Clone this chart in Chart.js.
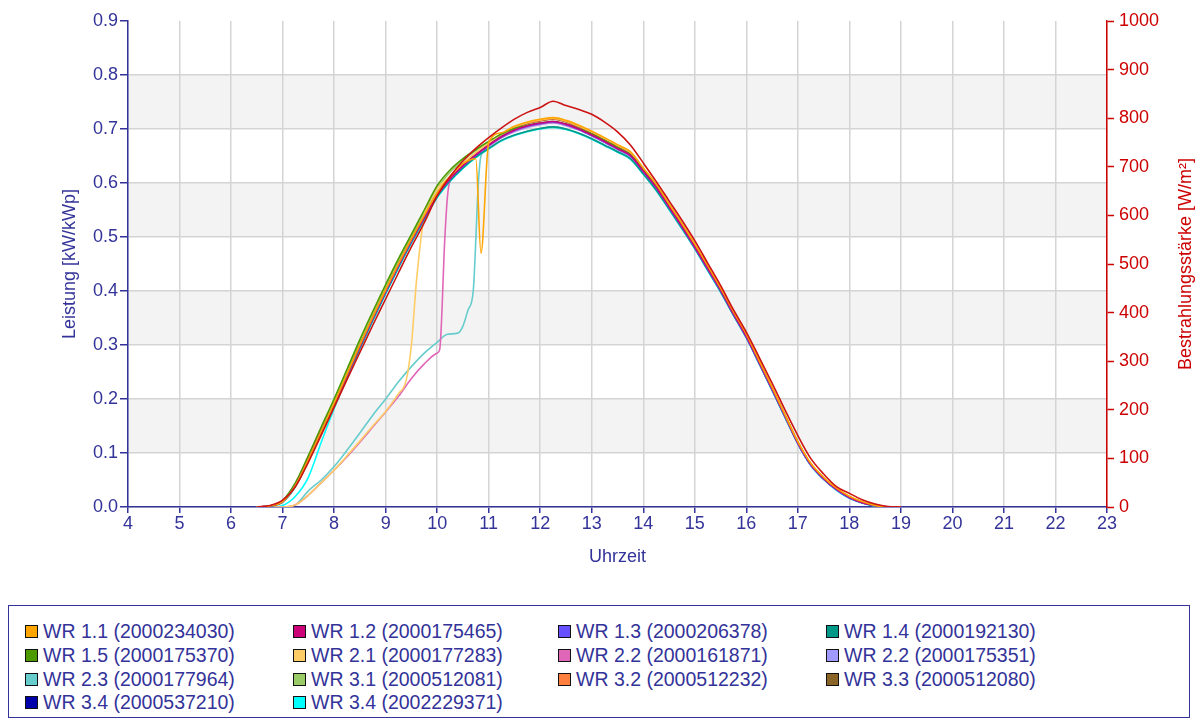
<!DOCTYPE html>
<html>
<head>
<meta charset="utf-8">
<script src="https://cdn.jsdelivr.net/npm/chart.js@4.4.0/dist/chart.umd.min.js"></script>
<style>
  body { margin: 0; background: #fff; font-family: "Liberation Sans", Arial, sans-serif; }
  #chartBox { position: absolute; left: 0; top: 0; width: 1197px; height: 590px; }
  #legendBox {
    position: absolute; left: 8px; top: 605px; width: 1180px; height: 111px;
    border: 1px solid #333399; box-sizing: content-box;
  }
  #legendGrid {
    position: absolute; left: 16px; top: 14px;
    display: grid; grid-template-columns: 268px 265px 268px 268px; grid-auto-rows: 23.7px;
  }
  .item { display: flex; align-items: center; color: #333399; font-size: 19.5px; white-space: nowrap; }
  .sw { width: 11px; height: 11px; border: 1.5px solid #111; margin-right: 5px; }
</style>
</head>
<body>
<div id="chartBox"><canvas id="chartArea"></canvas></div>
<div id="legendBox"><div id="legendGrid"></div></div>
<script>
const chartArea = document.getElementById("chartArea");

// time of day in hours (15 min steps)
var hours = [6.5,6.75,7,7.25,7.5,7.75,8,8.25,8.5,8.75,9,9.25,9.5,9.75,10,10.25,10.5,10.75,11,11.25,11.5,11.75,12,12.25,12.5,12.75,13,13.25,13.5,13.75,14,14.25,14.5,14.75,15,15.25,15.5,15.75,16,16.25,16.5,16.75,17,17.25,17.5,17.75,18,18.25,18.5,18.75,19];

// irradiance W/m2 (right axis)
var irradiance = [0,3,14,42,92,148,205,262,318,374,428,482,535,585,640,680,712,738,760,780,798,812,822,835,826,818,808,792,772,745,708,670,630,590,548,502,456,406,360,308,255,200,147,100,68,42,28,15,6,1,0];

// inverter power kW/kWp (left axis)
var wr11Hours = [6.5,6.75,7,7.25,7.5,7.75,8,8.25,8.5,8.75,9,9.25,9.5,9.75,10,10.25,10.5,10.75,10.85,11,11.25,11.5,11.75,12,12.25,12.5,12.75,13,13.25,13.5,13.75,14,14.25,14.5,14.75,15,15.25,15.5,15.75,16,16.25,16.5,16.75,17,17.25,17.5,17.75,18,18.25,18.5,18.75,19];
var wr11 = [0,0.002,0.01,0.04,0.088,0.14,0.192,0.246,0.3,0.352,0.402,0.45,0.496,0.54,0.582,0.612,0.636,0.645,0.47,0.675,0.693,0.705,0.713,0.718,0.721,0.716,0.707,0.696,0.684,0.671,0.658,0.628,0.598,0.561,0.525,0.487,0.447,0.406,0.362,0.32,0.271,0.222,0.171,0.121,0.081,0.055,0.035,0.02,0.01,0.003,0,0];
var wr12 = [0,0.002,0.01,0.04,0.088,0.14,0.19,0.244,0.298,0.35,0.4,0.448,0.494,0.537,0.578,0.608,0.632,0.652,0.67,0.686,0.698,0.706,0.711,0.714,0.709,0.7,0.689,0.677,0.664,0.651,0.622,0.592,0.556,0.52,0.482,0.442,0.402,0.358,0.316,0.268,0.219,0.169,0.119,0.079,0.053,0.033,0.018,0.008,0.003,0,0];
var wr13 = [0,0.002,0.01,0.04,0.087,0.139,0.19,0.243,0.297,0.349,0.399,0.447,0.493,0.536,0.577,0.607,0.631,0.651,0.669,0.685,0.697,0.705,0.71,0.713,0.708,0.699,0.688,0.676,0.663,0.65,0.621,0.591,0.555,0.519,0.481,0.441,0.401,0.357,0.315,0.267,0.218,0.168,0.118,0.078,0.052,0.032,0.017,0.008,0.003,0,0];
var wr14 = [0,0.001,0.009,0.038,0.085,0.137,0.187,0.241,0.294,0.346,0.396,0.444,0.49,0.533,0.574,0.604,0.628,0.648,0.664,0.679,0.689,0.696,0.701,0.704,0.7,0.692,0.682,0.67,0.658,0.645,0.617,0.587,0.552,0.516,0.479,0.439,0.399,0.356,0.314,0.266,0.217,0.167,0.118,0.078,0.052,0.032,0.017,0.008,0.002,0,0];
var wr15 = [0,0.002,0.012,0.045,0.095,0.148,0.2,0.255,0.31,0.362,0.412,0.46,0.505,0.55,0.595,0.624,0.645,0.662,0.677,0.691,0.701,0.707,0.711,0.714,0.709,0.701,0.691,0.679,0.666,0.652,0.624,0.594,0.558,0.522,0.484,0.444,0.404,0.36,0.318,0.27,0.22,0.17,0.12,0.08,0.054,0.034,0.019,0.009,0.003,0,0];
var wr21Hours = [6.5,6.75,7,7.25,7.5,7.75,8,8.25,8.5,8.75,9,9.25,9.4,9.5,9.6,9.75,9.9,10,10.25,10.5,10.75,11,11.25,11.5,11.75,12,12.25,12.5,12.75,13,13.25,13.5,13.75,14,14.25,14.5,14.75,15,15.25,15.5,15.75,16,16.25,16.5,16.75,17,17.25,17.5,17.75,18,18.25,18.5,18.75,19];
var wr21 = [0,0,0,0.004,0.022,0.045,0.068,0.095,0.122,0.15,0.177,0.21,0.235,0.3,0.42,0.54,0.575,0.59,0.612,0.636,0.656,0.674,0.692,0.704,0.712,0.717,0.72,0.715,0.706,0.695,0.683,0.67,0.657,0.627,0.597,0.56,0.524,0.486,0.446,0.405,0.361,0.319,0.27,0.221,0.17,0.12,0.08,0.054,0.034,0.019,0.009,0.003,0,0];
var wr22aHours = [6.5,6.75,7,7.25,7.5,7.75,8,8.25,8.5,8.75,9,9.25,9.5,9.75,10,10.05,10.15,10.2,10.25,10.5,10.75,11,11.25,11.5,11.75,12,12.25,12.5,12.75,13,13.25,13.5,13.75,14,14.25,14.5,14.75,15,15.25,15.5,15.75,16,16.25,16.5,16.75,17,17.25,17.5,17.75,18,18.25,18.5,18.75,19];
var wr22a = [0,0,0,0.004,0.022,0.045,0.068,0.093,0.12,0.148,0.176,0.205,0.238,0.265,0.285,0.292,0.5,0.575,0.605,0.63,0.65,0.668,0.684,0.696,0.704,0.709,0.712,0.707,0.699,0.688,0.676,0.663,0.65,0.621,0.591,0.555,0.519,0.481,0.441,0.401,0.357,0.315,0.267,0.218,0.168,0.118,0.078,0.052,0.032,0.017,0.008,0.003,0,0];
var wr22b = [0,0.002,0.01,0.039,0.087,0.138,0.189,0.242,0.296,0.348,0.398,0.446,0.492,0.535,0.576,0.606,0.63,0.65,0.668,0.684,0.695,0.703,0.708,0.711,0.706,0.698,0.687,0.675,0.662,0.649,0.62,0.59,0.554,0.518,0.48,0.44,0.4,0.356,0.314,0.266,0.217,0.167,0.118,0.078,0.052,0.032,0.017,0.008,0.003,0,0];
var wr23Hours = [6.5,6.75,7,7.25,7.5,7.75,8,8.25,8.5,8.75,9,9.25,9.5,9.75,10,10.2,10.4,10.5,10.6,10.7,10.8,10.85,11,11.25,11.5,11.75,12,12.25,12.5,12.75,13,13.25,13.5,13.75,14,14.25,14.5,14.75,15,15.25,15.5,15.75,16,16.25,16.5,16.75,17,17.25,17.5,17.75,18,18.25,18.5,18.75,19];
var wr23 = [0,0,0,0.004,0.03,0.05,0.075,0.105,0.137,0.17,0.2,0.232,0.26,0.285,0.305,0.32,0.322,0.335,0.365,0.4,0.6,0.65,0.664,0.679,0.689,0.696,0.701,0.704,0.7,0.692,0.682,0.67,0.658,0.645,0.617,0.587,0.552,0.516,0.479,0.439,0.399,0.356,0.314,0.266,0.217,0.167,0.118,0.078,0.052,0.032,0.017,0.008,0.002,0,0];
var wr31 = [0,0.002,0.011,0.043,0.093,0.146,0.198,0.252,0.307,0.359,0.409,0.457,0.502,0.547,0.59,0.62,0.642,0.66,0.675,0.689,0.7,0.706,0.71,0.713,0.708,0.7,0.69,0.678,0.665,0.651,0.623,0.593,0.557,0.521,0.483,0.443,0.403,0.359,0.317,0.269,0.219,0.169,0.119,0.079,0.053,0.033,0.018,0.008,0.003,0,0];
var wr32 = [0,0.002,0.01,0.04,0.088,0.14,0.192,0.246,0.3,0.352,0.402,0.45,0.496,0.54,0.582,0.612,0.636,0.656,0.674,0.691,0.703,0.711,0.716,0.719,0.714,0.705,0.694,0.682,0.669,0.656,0.626,0.596,0.56,0.524,0.486,0.446,0.405,0.361,0.319,0.27,0.221,0.17,0.12,0.08,0.054,0.034,0.019,0.009,0.003,0,0];
var wr33 = [0,0.002,0.01,0.041,0.089,0.141,0.193,0.247,0.301,0.353,0.403,0.451,0.497,0.54,0.581,0.611,0.635,0.655,0.673,0.69,0.702,0.71,0.715,0.718,0.713,0.704,0.693,0.681,0.668,0.655,0.625,0.595,0.559,0.523,0.485,0.445,0.404,0.36,0.318,0.269,0.22,0.169,0.119,0.079,0.053,0.033,0.018,0.008,0.003,0,0];
var wr34a = [0,0.002,0.011,0.041,0.089,0.141,0.191,0.245,0.299,0.351,0.401,0.449,0.495,0.538,0.579,0.609,0.633,0.653,0.67,0.686,0.697,0.705,0.71,0.713,0.708,0.699,0.688,0.676,0.663,0.65,0.621,0.591,0.555,0.519,0.481,0.441,0.401,0.357,0.315,0.267,0.218,0.168,0.118,0.078,0.052,0.032,0.017,0.008,0.003,0,0];
var wr34b = [0,0,0.003,0.02,0.055,0.12,0.182,0.24,0.293,0.345,0.395,0.443,0.489,0.532,0.573,0.603,0.627,0.647,0.663,0.678,0.688,0.695,0.7,0.703,0.699,0.691,0.681,0.669,0.657,0.644,0.616,0.586,0.551,0.515,0.478,0.438,0.398,0.355,0.313,0.265,0.216,0.166,0.117,0.077,0.051,0.031,0.016,0.007,0.002,0,0];

// legend order (row by row, 4 columns)
var seriesLabels = ["WR 1.1 (2000234030)", "WR 1.2 (2000175465)", "WR 1.3 (2000206378)", "WR 1.4 (2000192130)",
    "WR 1.5 (2000175370)", "WR 2.1 (2000177283)", "WR 2.2 (2000161871)", "WR 2.2 (2000175351)",
    "WR 2.3 (2000177964)", "WR 3.1 (2000512081)", "WR 3.2 (2000512232)", "WR 3.3 (2000512080)",
    "WR 3.4 (2000537210)", "WR 3.4 (2002229371)"];
var seriesColors = ["#ffa500", "#cc0077", "#6650ff", "#009988",
    "#4c9a00", "#ffcc66", "#e066b8", "#a09aff",
    "#66cccc", "#99cc66", "#ff7f3f", "#8b6428",
    "#0000aa", "#00ffff"];
var seriesHours = [wr11Hours, hours, hours, hours, hours, wr21Hours, wr22aHours, hours, wr23Hours, hours, hours, hours, hours, hours];
var seriesValues = [wr11, wr12, wr13, wr14, wr15, wr21, wr22a, wr22b, wr23, wr31, wr32, wr33, wr34a, wr34b];

var navy = "#333399";
var red = "#cc0000";
var rightTitle = "Bestrahlungsstärke [W/m²]";

function toPoints(xs, ys) {
    var pts = [];
    for (var i = 0; i < ys.length; i++) {
        pts.push({ x: xs[i], y: ys[i] });
    }
    return pts;
}

// grey bands behind every second 0.1 step
const bandPlugin = {
    id: "bands",
    beforeDraw(chart) {
        const ctx = chart.ctx;
        const a = chart.chartArea;
        const y = chart.scales.y;
        ctx.save();
        ctx.fillStyle = "#f3f3f3";
        for (var v = 0.1; v < 0.85; v += 0.2) {
            var top = y.getPixelForValue(v + 0.1);
            var bot = y.getPixelForValue(v);
            ctx.fillRect(a.left, top, a.right - a.left, bot - top);
        }
        ctx.restore();
    }
};

// right axis title reads bottom to top
const rightTitlePlugin = {
    id: "rightTitle",
    afterDraw(chart) {
        const ctx = chart.ctx;
        const a = chart.chartArea;
        ctx.save();
        ctx.translate(chart.scales.y1.right - 11, (a.top + a.bottom) / 2);
        ctx.rotate(-Math.PI / 2);
        ctx.font = "18px 'Liberation Sans'";
        ctx.fillStyle = red;
        ctx.textAlign = "center";
        ctx.textBaseline = "middle";
        ctx.fillText(rightTitle, 0, 0);
        ctx.restore();
    }
};

var datasets = [{
    label: "Bestrahlungsstärke",
    data: toPoints(hours, irradiance),
    yAxisID: "y1",
    borderColor: "#cc1414",
    borderWidth: 1.6,
    pointRadius: 0,
    cubicInterpolationMode: "monotone"
}];
for (var i = 0; i < seriesLabels.length; i++) {
    datasets.push({
        label: seriesLabels[i],
        data: toPoints(seriesHours[i], seriesValues[i]),
        yAxisID: "y",
        borderColor: seriesColors[i],
        borderWidth: 1.6,
        pointRadius: 0,
        cubicInterpolationMode: "monotone"
    });
}

var tickFont = { family: "Liberation Sans", size: 18 };
var titleFont = { family: "Liberation Sans", size: 18 };

var lineChart = new Chart(chartArea, {
    type: "line",
    data: { datasets: datasets },
    plugins: [bandPlugin, rightTitlePlugin],
    options: {
        responsive: true,
        maintainAspectRatio: false,
        animation: false,
        layout: { padding: { top: 21, left: 0, right: 0, bottom: 0 } },
        plugins: { legend: { display: false }, tooltip: { enabled: false } },
        scales: {
            x: {
                type: "linear",
                min: 4,
                max: 23,
                afterFit: function (s) { s.height = 83; },
                ticks: { stepSize: 1, color: navy, font: tickFont, padding: 0, maxRotation: 0 },
                grid: { color: "#d4d4d4", lineWidth: 1.5, tickColor: navy, tickLength: 6, tickWidth: 1.5 },
                border: { color: navy, width: 1.5 },
                title: { display: true, text: "Uhrzeit", color: navy, font: titleFont, padding: { top: 0, bottom: 22 } }
            },
            y: {
                position: "left",
                min: 0,
                max: 0.9,
                afterFit: function (s) { s.width = 128; },
                ticks: { stepSize: 0.1, color: navy, font: tickFont, padding: 2,
                    callback: function (v) { return v.toFixed(1); } },
                grid: {
                    color: function (c) { return c.tick && c.tick.value > 0.85 ? "rgba(0,0,0,0)" : "#d4d4d4"; },
                    lineWidth: 1.5, tickColor: navy, tickLength: 8, tickWidth: 1.5
                },
                border: { color: navy, width: 1.5 },
                title: { display: true, text: "Leistung [kW/kWp]", color: navy, font: titleFont, padding: { top: 59, bottom: 0 } }
            },
            y1: {
                position: "right",
                min: 0,
                max: 1000,
                afterFit: function (s) { s.width = 90; },
                ticks: { stepSize: 100, color: red, font: tickFont, padding: 5,
                    callback: function (v) { return String(v); } },
                grid: { drawOnChartArea: false, tickColor: red, tickLength: 7, tickWidth: 1.5 },
                border: { color: red, width: 1.5 }
            }
        }
    }
});

// html legend in four columns
var legendGrid = document.getElementById("legendGrid");
for (var k = 0; k < seriesLabels.length; k++) {
    var item = document.createElement("div");
    item.className = "item";
    var sw = document.createElement("span");
    sw.className = "sw";
    sw.style.background = seriesColors[k];
    item.appendChild(sw);
    item.appendChild(document.createTextNode(seriesLabels[k]));
    legendGrid.appendChild(item);
}
</script>
</body>
</html>
